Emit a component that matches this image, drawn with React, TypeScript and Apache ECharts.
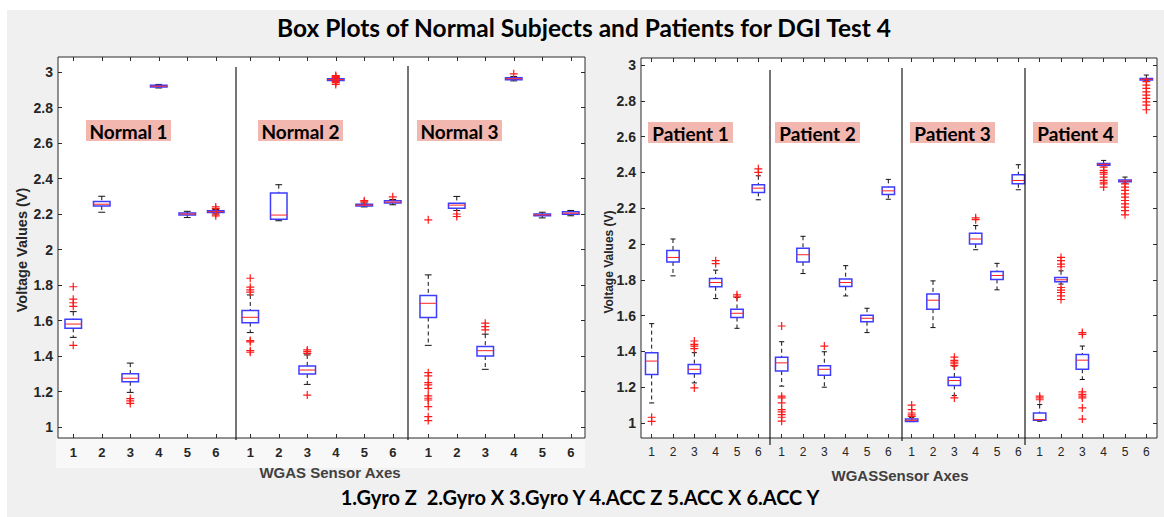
import React, { useEffect, useRef } from 'react';
import * as echarts from 'echarts';

// ---------- data ----------
const categories = ['1', '2', '3', '4', '5', '6'];
const normalNames = ['Normal 1', 'Normal 2', 'Normal 3'];
const patientNames = ['Patient 1', 'Patient 2', 'Patient 3', 'Patient 4'];
const yMin = 1;
const yMax = 3;
const yStep = 0.2;

// each box: [min, q1, median, q3, max]
const normal1Boxes = [
  [1.505, 1.556, 1.58, 1.607, 1.65],
  [2.21, 2.245, 2.255, 2.27, 2.3],
  [1.195, 1.255, 1.275, 1.3, 1.36],
  [2.91, 2.915, 2.92, 2.925, 2.93],
  [2.18, 2.195, 2.2, 2.205, 2.215],
  [2.2, 2.208, 2.213, 2.218, 2.225],
];
const normal1Outliers = [[1.79, 1.72, 1.7, 1.68, 1.46], [], [1.16, 1.147, 1.133], [], [], [2.24, 2.23, 2.19, 2.2]];

const normal2Boxes = [
  [1.532, 1.588, 1.618, 1.656, 1.744],
  [2.162, 2.171, 2.194, 2.318, 2.365],
  [1.24, 1.299, 1.321, 1.344, 1.406],
  [2.945, 2.952, 2.957, 2.962, 2.968],
  [2.24, 2.245, 2.25, 2.255, 2.262],
  [2.252, 2.262, 2.267, 2.274, 2.282],
];
const normal2Outliers = [
  [1.838, 1.788, 1.773, 1.76, 1.487, 1.48, 1.43, 1.421],
  [],
  [1.434, 1.425, 1.415, 1.18],
  [2.98, 2.975, 2.97, 2.965, 2.95, 2.945, 2.94, 2.93],
  [2.275, 2.268],
  [2.297],
];

const normal3Boxes = [
  [1.46, 1.617, 1.697, 1.741, 1.857],
  [2.22, 2.233, 2.25, 2.261, 2.299],
  [1.325, 1.4, 1.43, 1.453, 1.523],
  [2.95, 2.956, 2.962, 2.968, 2.975],
  [2.178, 2.19, 2.195, 2.2, 2.21],
  [2.19, 2.198, 2.205, 2.212, 2.22],
];
const normal3Outliers = [
  [2.167, 1.306, 1.288, 1.25, 1.237, 1.218, 1.175, 1.162, 1.152, 1.115, 1.058, 1.036],
  [2.2, 2.186],
  [1.585, 1.566, 1.547],
  [2.99],
  [],
  [],
];

const patient1Boxes = [
  [1.112, 1.271, 1.346, 1.393, 1.555],
  [1.822, 1.9, 1.925, 1.963, 2.028],
  [1.224, 1.275, 1.3, 1.327, 1.393],
  [1.695, 1.761, 1.785, 1.807, 1.854],
  [1.529, 1.589, 1.613, 1.636, 1.701],
  [2.247, 2.288, 2.312, 2.331, 2.381],
];
const patient1Outliers = [[1.032, 1.009], [], [1.458, 1.439, 1.43, 1.415, 1.196], [1.907, 1.89], [1.716, 1.705], [2.42, 2.4]];

const patient2Boxes = [
  [1.206, 1.29, 1.336, 1.368, 1.454],
  [1.835, 1.9, 1.94, 1.976, 2.043],
  [1.2, 1.267, 1.3, 1.32, 1.398],
  [1.71, 1.763, 1.785, 1.804, 1.879],
  [1.505, 1.566, 1.585, 1.602, 1.641],
  [2.25, 2.277, 2.297, 2.318, 2.361],
];
const patient2Outliers = [[1.542, 1.15, 1.14, 1.112, 1.075, 1.062, 1.047, 1.032, 1.01], [], [1.43], [], [], []];

const patient3Boxes = [
  [1.008, 1.009, 1.015, 1.022, 1.03],
  [1.533, 1.636, 1.686, 1.72, 1.794],
  [1.153, 1.21, 1.237, 1.256, 1.318],
  [1.968, 2.0, 2.028, 2.06, 2.103],
  [1.744, 1.802, 1.824, 1.847, 1.892],
  [2.303, 2.336, 2.355, 2.387, 2.443],
];
const patient3Outliers = [[1.1, 1.075, 1.056, 1.045, 1.037], [], [1.368, 1.35, 1.34, 1.331, 1.32, 1.14], [2.146, 2.136], [], []];

const patient4Boxes = [
  [1.01, 1.015, 1.019, 1.056, 1.103],
  [1.776, 1.789, 1.8, 1.813, 1.85],
  [1.243, 1.3, 1.351, 1.383, 1.43],
  [2.437, 2.44, 2.445, 2.45, 2.467],
  [2.34, 2.348, 2.352, 2.357, 2.374],
  [2.912, 2.916, 2.92, 2.925, 2.944],
];
const patient4Outliers = [
  [1.15, 1.14, 1.13],
  [1.925, 1.907, 1.888, 1.873, 1.757, 1.742, 1.729, 1.71, 1.69],
  [1.505, 1.495, 1.174, 1.16, 1.15, 1.14, 1.084, 1.022],
  [2.43, 2.411, 2.4, 2.39, 2.374, 2.355, 2.345, 2.336, 2.318],
  [2.336, 2.318, 2.3, 2.28, 2.262, 2.243, 2.224, 2.206, 2.187, 2.163],
  [2.907, 2.888, 2.869, 2.85, 2.832, 2.813, 2.794, 2.776, 2.75],
];

const titleText = 'Box Plots of Normal Subjects and Patients for DGI Test 4';
const legendText = '1.Gyro Z  2.Gyro X 3.Gyro Y 4.ACC Z 5.ACC X 6.ACC Y';
const yName = 'Voltage Values (V)';
const leftXName = 'WGAS Sensor Axes';
const rightXName = 'WGASSensor Axes';

// ---------- layout ----------
const panels = [
  {
    frame: { left: 58, top: 57, width: 527, height: 381 },
    scale: { top: 72, height: 355 },
    groupLefts: [59, 236, 414],
    groupWidth: 171,
    bottomOffset: 11,
    topOffset: 15,
    labelFont: { fontWeight: 'bold' as const, fontSize: 13 },
    groups: [
      { name: normalNames[0], boxes: normal1Boxes, outliers: normal1Outliers },
      { name: normalNames[1], boxes: normal2Boxes, outliers: normal2Outliers },
      { name: normalNames[2], boxes: normal3Boxes, outliers: normal3Outliers },
    ],
    tagRects: [
      [86, 120],
      [258, 120],
      [417, 120],
    ],
  },
  {
    frame: { left: 641, top: 58, width: 516, height: 380 },
    scale: { top: 65, height: 358 },
    groupLefts: [641, 771, 901, 1029],
    groupWidth: 128,
    bottomOffset: 15,
    topOffset: 7,
    labelFont: { fontWeight: 'normal' as const, fontSize: 12 },
    groups: [
      { name: patientNames[0], boxes: patient1Boxes, outliers: patient1Outliers },
      { name: patientNames[1], boxes: patient2Boxes, outliers: patient2Outliers },
      { name: patientNames[2], boxes: patient3Boxes, outliers: patient3Outliers },
      { name: patientNames[3], boxes: patient4Boxes, outliers: patient4Outliers },
    ],
    tagRects: [
      [648, 122],
      [775, 122],
      [910, 122],
      [1033, 122],
    ],
  },
];

const PLUS = 'path://M3.4,0H4.6V3.4H8V4.6H4.6V8H3.4V4.6H0V3.4H3.4Z';

const renderBox = (params: any, api: any) => {
  const cat = api.value(0);
  const pMin = api.coord([cat, api.value(1)]);
  const pQ1 = api.coord([cat, api.value(2)]);
  const pMed = api.coord([cat, api.value(3)]);
  const pQ3 = api.coord([cat, api.value(4)]);
  const pMax = api.coord([cat, api.value(5)]);
  const band = api.size([1, 0])[0];
  const hw = band * 0.29;
  const cw = band * 0.12;
  const x = pMed[0];
  const wStyle = { stroke: '#111', lineWidth: 1, lineDash: [4, 3], fill: 'none' };
  const cStyle = { stroke: '#111', lineWidth: 1, fill: 'none' };
  return {
    type: 'group',
    children: [
      { type: 'line', shape: { x1: x, y1: pMax[1], x2: x, y2: pQ3[1] }, style: wStyle },
      { type: 'line', shape: { x1: x, y1: pQ1[1], x2: x, y2: pMin[1] }, style: wStyle },
      { type: 'line', shape: { x1: x - cw, y1: pMax[1], x2: x + cw, y2: pMax[1] }, style: cStyle },
      { type: 'line', shape: { x1: x - cw, y1: pMin[1], x2: x + cw, y2: pMin[1] }, style: cStyle },
      {
        type: 'rect',
        shape: { x: x - hw, y: pQ3[1], width: hw * 2, height: Math.max(1, pQ1[1] - pQ3[1]) },
        style: { fill: 'none', stroke: '#3d3dff', lineWidth: 1.5 },
      },
      {
        type: 'line',
        shape: { x1: x - hw, y1: pMed[1], x2: x + hw, y2: pMed[1] },
        style: { stroke: '#ff2020', lineWidth: 1 },
      },
    ],
  };
};

function buildOption() {
  const grid: any[] = [];
  const xAxis: any[] = [];
  const yAxis: any[] = [];
  const series: any[] = [];
  const graphic: any[] = [];

  graphic.push({ type: 'rect', z: -100, shape: { x: 7, y: 10, width: 1157, height: 507 }, style: { fill: '#f0f0f0' } });
  graphic.push({ type: 'rect', z: -50, shape: { x: 56, y: 439, width: 529, height: 29 }, style: { fill: '#f8f8f8' } });

  const axisText = '#262626';

  // frame grids
  panels.forEach((p) => {
    const gi = grid.length;
    grid.push({
      ...p.frame,
      show: true,
      backgroundColor: '#ffffff',
      borderColor: '#2a2a2a',
      borderWidth: 1,
    });
    xAxis.push({ type: 'value', gridIndex: gi, show: false });
    yAxis.push({ type: 'value', gridIndex: gi, show: false });
  });

  // scale grids (y labels + ticks on both sides)
  panels.forEach((p) => {
    const gi = grid.length;
    grid.push({ left: p.frame.left, width: p.frame.width, top: p.scale.top, height: p.scale.height });
    xAxis.push({ type: 'value', gridIndex: gi, show: false });
    ['left', 'right'].forEach((pos) => {
      yAxis.push({
        type: 'value',
        gridIndex: gi,
        position: pos,
        min: yMin,
        max: yMax,
        interval: yStep,
        axisLine: { show: false },
        splitLine: { show: false },
        axisTick: { show: true, inside: true, length: 4, lineStyle: { color: '#2a2a2a' } },
        axisLabel: {
          show: pos === 'left',
          inside: false,
          margin: 5,
          color: axisText,
          fontFamily: 'Liberation Sans',
          fontWeight: 'bold',
          fontSize: 14,
          formatter: (v: number) => String(+v.toFixed(1)),
        },
      });
    });
  });

  // group grids
  panels.forEach((p) => {
    p.groups.forEach((g, k) => {
      const gi = grid.length;
      grid.push({ left: p.groupLefts[k], width: p.groupWidth, top: p.scale.top, height: p.scale.height });
      const xi = xAxis.length;
      xAxis.push({
        type: 'category',
        gridIndex: gi,
        data: categories,
        position: 'bottom',
        offset: p.bottomOffset,
        axisLine: { show: false },
        axisTick: { show: true, inside: true, length: 4, alignWithLabel: true, lineStyle: { color: '#2a2a2a' } },
        axisLabel: {
          margin: 8,
          color: axisText,
          fontFamily: 'Liberation Sans',
          ...p.labelFont,
        },
      });
      xAxis.push({
        type: 'category',
        gridIndex: gi,
        data: categories,
        position: 'top',
        offset: p.topOffset,
        axisLine: { show: false },
        axisTick: { show: true, inside: true, length: 4, alignWithLabel: true, lineStyle: { color: '#2a2a2a' } },
        axisLabel: { show: false },
      });
      const yi = yAxis.length;
      yAxis.push({ type: 'value', gridIndex: gi, min: yMin, max: yMax, show: false });

      series.push({
        type: 'custom',
        xAxisIndex: xi,
        yAxisIndex: yi,
        renderItem: renderBox,
        encode: { x: 0, y: [1, 2, 3, 4, 5] },
        data: g.boxes.map((b, i) => [i, ...b]),
        z: 2,
      });
      const pts: number[][] = [];
      g.outliers.forEach((arr, i) => arr.forEach((v) => pts.push([i, v])));
      series.push({
        type: 'scatter',
        xAxisIndex: xi,
        yAxisIndex: yi,
        symbol: PLUS,
        symbolSize: 8,
        itemStyle: { color: '#ff1a1a', opacity: 1 },
        data: pts,
        z: 3,
      });

      const [rx, ry] = p.tagRects[k];
      graphic.push({ type: 'rect', z: 5, shape: { x: rx, y: ry, width: 85, height: 21 }, style: { fill: '#f2b7af' } });
      graphic.push({
        type: 'text',
        z: 6,
        x: rx + 42.5,
        y: ry + 11,
        style: {
          text: g.name,
          font: 'bold 19px Lato',
          fill: '#000',
          align: 'center',
          verticalAlign: 'middle',
          textAlign: 'center',
          textVerticalAlign: 'middle',
        },
      });
    });
  });

  // separators
  const seps = [
    [236, 67, 440],
    [408, 66, 440],
    [770, 70, 445],
    [902, 68, 441],
    [1025, 68, 445],
  ];
  seps.forEach(([x, y1, y2]) =>
    graphic.push({ type: 'line', z: 10, shape: { x1: x, y1, x2: x, y2 }, style: { stroke: '#1a1a1a', lineWidth: 1.2 } })
  );

  const txt = (x: number, y: number, text: string, font: string, fill: string, rotation = 0) => ({
    type: 'text',
    z: 10,
    x,
    y,
    rotation,
    style: { text, font, fill, align: 'center', verticalAlign: 'middle', textAlign: 'center', textVerticalAlign: 'middle' },
  });
  graphic.push(txt(584, 27, titleText, 'bold 24.5px Lato', '#000'));
  graphic.push(txt(580, 497, legendText, 'bold 20px Lato', '#000'));
  graphic.push(txt(22, 250, yName, 'bold 14.5px Liberation Sans', axisText, Math.PI / 2));
  graphic.push(txt(609, 262, yName, 'bold 12px Liberation Sans', axisText, Math.PI / 2));
  graphic.push(txt(330, 472, leftXName, 'bold 15px Liberation Sans', '#404040'));
  graphic.push(txt(900, 475, rightXName, 'bold 15px Liberation Sans', '#404040'));

  return {
    animation: false,
    backgroundColor: '#ffffff',
    grid,
    xAxis,
    yAxis,
    series,
    graphic: { elements: graphic },
  };
}

export default function App() {
  const ref = useRef<HTMLDivElement>(null);
  useEffect(() => {
    if (!ref.current) return;
    const chart = echarts.init(ref.current, undefined, { renderer: 'svg' });
    chart.setOption(buildOption() as any);
    return () => chart.dispose();
  }, []);
  return <div ref={ref} style={{ position: 'absolute', left: 0, top: 0, width: 1164, height: 517 }} />;
}
